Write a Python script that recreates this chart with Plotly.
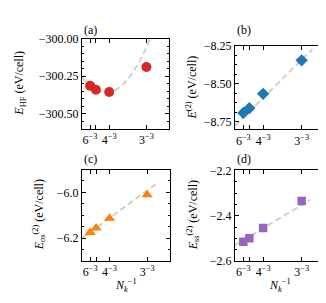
import plotly.graph_objects as go

# ---- data ----
nk_inv = [1/216, 1/125, 1/64, 1/27]          # 6^-3, 5^-3, 4^-3, 3^-3
x_ticktext = ["6<sup>−3</sup>", "", "4<sup>−3</sup>", "3<sup>−3</sup>"]

e_hf = [-300.314, -300.341, -300.356, -300.188]
e2 = [-8.693, -8.661, -8.567, -8.346]
e_os = [-6.175, -6.155, -6.113, -6.010]
e_ss = [-2.515, -2.499, -2.454, -2.335]

fit_a_x = [0, 0.005, 0.01, 0.015, 0.02, 0.025, 0.03, 0.035, 0.039]
fit_a_y = [-300.257, -300.318, -300.351, -300.357, -300.336, -300.287, -300.210, -300.107, -300.004]
fit_b_x = [0, 0.043]
fit_b_y = [-8.777, -8.273]
fit_c_x = [0, 0.0422]
fit_c_y = [-6.200, -5.962]
fit_d_x = [0, 0.0417]
fit_d_y = [-2.530, -2.330]

ya_ticks = [-300.5, -300.25, -300.0]
ya_text = ["−300.50", "−300.25", "−300.00"]
yb_ticks = [-8.75, -8.5, -8.25]
yb_text = ["−8.75", "−8.50", "−8.25"]
yc_ticks = [-6.2, -6.0]
yc_text = ["−6.2", "−6.0"]
yd_ticks = [-2.6, -2.4, -2.2]
yd_text = ["−2.6", "−2.4", "−2.2"]

W, H = 326, 303
FONT = "Liberation Serif, Times New Roman, DejaVu Serif, serif"
GRAY = "#cfcfcf"


def px_x(p):
    return p / W


def px_y(p):
    return 1 - p / H


fig = go.Figure()

panels = [
    ("", e_hf, fit_a_x, fit_a_y, "#d62728", "circle", 10, (74, 161), (25, 119), [-300.6, -300.0], ya_ticks, ya_text, 0.05, "spline"),
    ("2", e2, fit_b_x, fit_b_y, "#1f77b4", "diamond", 9.5, (227, 317), (32, 120), [-8.802, -8.248], yb_ticks, yb_text, 0.0625, "linear"),
    ("3", e_os, fit_c_x, fit_c_y, "#ff7f0e", "triangle-up", 10, (74, 162), (162, 258), [-6.3, -5.9], yc_ticks, yc_text, 0.05, "linear"),
    ("4", e_ss, fit_d_x, fit_d_y, "#9467bd", "square", 8.5, (227, 317), (163, 258), [-2.6, -2.2], yd_ticks, yd_text, 0.05, "linear"),
]

for key, yv, fx, fy, col, sym, size, xd, yd, yr, tv, tt, mdt, shape in panels:
    xa = "x" + key
    ya = "y" + key
    fig.add_trace(go.Scatter(x=fx, y=fy, mode="lines", xaxis=xa, yaxis=ya,
                             line=dict(color=GRAY, width=2, dash="6px,3.5px", shape=shape),
                             showlegend=False, hoverinfo="skip"))
    fig.add_trace(go.Scatter(x=nk_inv, y=yv, mode="markers", xaxis=xa, yaxis=ya,
                             marker=dict(color=col, symbol=sym, size=size, line=dict(width=0)),
                             showlegend=False))
    axis_common = dict(showline=True, linecolor="black", linewidth=1, mirror="ticks",
                       ticks="inside", ticklen=4, tickwidth=1, tickcolor="black",
                       showgrid=False, zeroline=False,
                       tickfont=dict(family=FONT, size=12, color="black"))
    xname = "xaxis" + key
    yname = "yaxis" + key
    fig.layout[xname] = dict(domain=[px_x(xd[0]), px_x(xd[1])], range=[0, 0.05],
                             anchor=ya, tickmode="array", tickvals=nk_inv, ticktext=x_ticktext,
                             **axis_common)
    fig.layout[yname] = dict(domain=[px_y(yd[1]), px_y(yd[0])], range=yr,
                             anchor=xa, tickmode="array", tickvals=tv, ticktext=tt,
                             minor=dict(ticks="inside", ticklen=2, tick0=tv[0], dtick=mdt,
                                        tickcolor="black", showgrid=False),
                             **axis_common)

ann_font = dict(family=FONT, size=12, color="black")
annotations = [
    dict(text="(a)", x=px_x(74), y=px_y(16), xanchor="left", yanchor="middle"),
    dict(text="(b)", x=px_x(227), y=px_y(16), xanchor="left", yanchor="middle"),
    dict(text="(c)", x=px_x(74), y=px_y(151), xanchor="left", yanchor="middle"),
    dict(text="(d)", x=px_x(227), y=px_y(151), xanchor="left", yanchor="middle"),
    dict(text="<i>E</i><sub>HF</sub> (eV/cell)", x=px_x(12), y=px_y(72), textangle=-90,
         xanchor="center", yanchor="middle"),
    dict(text="<i>E</i><sup>(2)</sup> (eV/cell)", x=px_x(183), y=px_y(76), textangle=-90,
         xanchor="center", yanchor="middle"),
    dict(text="<i>E</i><sub>os</sub><sup>(2)</sup> (eV/cell)", x=px_x(31), y=px_y(210), textangle=-90,
         xanchor="center", yanchor="middle"),
    dict(text="<i>E</i><sub>ss</sub><sup>(2)</sup> (eV/cell)", x=px_x(185), y=px_y(210), textangle=-90,
         xanchor="center", yanchor="middle"),
    dict(text="<i>N</i><sub><i>k</i></sub><sup>−1</sup>", x=px_x(118), y=px_y(284),
         xanchor="center", yanchor="middle"),
    dict(text="<i>N</i><sub><i>k</i></sub><sup>−1</sup>", x=px_x(272), y=px_y(284),
         xanchor="center", yanchor="middle"),
]
for a in annotations:
    a.update(xref="paper", yref="paper", showarrow=False, font=ann_font)

fig.update_layout(width=W, height=H, margin=dict(l=0, r=0, t=0, b=0),
                  paper_bgcolor="white", plot_bgcolor="white",
                  font=dict(family=FONT, size=12, color="black"),
                  annotations=annotations, showlegend=False)

fig.write_html("out.html")
